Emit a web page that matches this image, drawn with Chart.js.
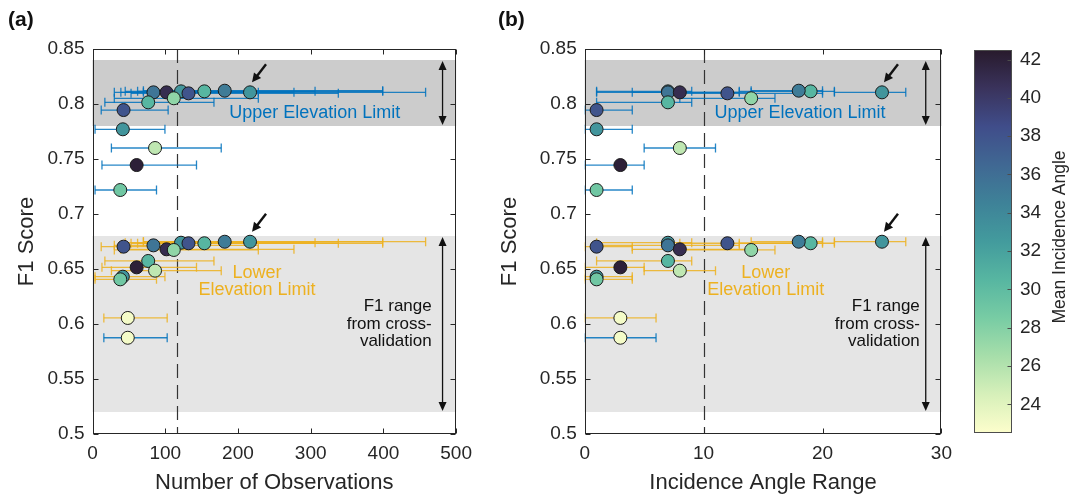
<!DOCTYPE html>
<html>
<head>
<meta charset="utf-8">
<script src="https://cdn.jsdelivr.net/npm/chart.js@4.4.0/dist/chart.umd.min.js"></script>
<style>
  body { margin: 0; background: #fff; width: 1070px; height: 497px; position: relative; overflow: hidden;
         font-family: 'Liberation Sans', Arial, sans-serif; }
  canvas { position: absolute; top: 0; }
  .tag { position: absolute; top: 7px; font-weight: bold; font-size: 21px; color: #111; }
</style>
</head>
<body>
<canvas id="chartA" width="480" height="497" style="left:0"></canvas>
<canvas id="chartB" width="480" height="497" style="left:480px"></canvas>
<canvas id="colorbar" width="110" height="497" style="left:960px"></canvas>
<div class="tag" style="left:8px">(a)</div>
<div class="tag" style="left:498px">(b)</div>
<script>
// Axis ticks
const f1Ticks = [0.5, 0.55, 0.6, 0.65, 0.7, 0.75, 0.8, 0.85];
const obsTicks = [0, 100, 200, 300, 400, 500];
const angleTicks = [0, 10, 20, 30];
const colorTicks = [24, 26, 28, 30, 32, 34, 36, 38, 40, 42];

// One entry per model run (same order in every array)
const meanAngle = [33, 35.5, 41, 38, 30.5, 35, 33, 30.5, 27.5, 38, 33, 25.5, 42, 29, 23];
const f1Upper = [0.8115, 0.8106, 0.8106, 0.8097, 0.8115, 0.8121, 0.8106, 0.8015, 0.8052, 0.7945, 0.777, 0.76, 0.7445, 0.7218, 0.5875];
const f1Lower = [0.6739, 0.6715, 0.6679, 0.6734, 0.6734, 0.6748, 0.6748, 0.6573, 0.6673, 0.6703, 0.643, 0.6485, 0.6515, 0.6406, 0.6055];
const obsMean = [121.7, 83.8, 101.8, 132, 153.8, 181.8, 216.6, 76.6, 111.8, 42.7, 41.7, 86, 60.7, 38.2, 48.5];
const obsMin = [45, 30, 39, 53, 62, 70, 70, 17, 30, 12, 3.5, 26, 13, 3.5, 15.6];
const obsMax = [306, 228, 277, 338, 399, 399, 458, 167, 228, 104, 99.6, 177, 143, 88, 102.7];
const angRange = [7, 7, 8, 12, 19, 18, 25, 7, 14, 1, 1, 8, 3, 1, 3];
const angMin = [1, 1, 4, 8, 13, 14, 21, 1, 8, 0, 0, 5, 0, 0, 0];
const angMax = [9, 13, 14, 20, 21, 20, 27, 9, 16, 4, 4, 11, 5, 4, 6];

// Cross-validation F1 ranges
const upperBand = [0.78, 0.84];
const lowerBand = [0.52, 0.68];
const arrowIdx = 6;   // run marked with the small arrows

const BLUE = 'rgba(0,114,189,0.85)';
const ORANGE = 'rgba(237,177,32,0.85)';
const TXT = '#262626';
const FONT = "'Liberation Sans', Arial, sans-serif";

Chart.defaults.font.family = FONT;
Chart.defaults.color = TXT;

// cmocean "deep"-like colormap
const deepStops = [[253,254,204],[215,240,186],[167,222,170],[120,204,164],[87,182,161],
                   [67,155,157],[62,130,152],[64,104,147],[64,77,138],[58,51,92],[40,26,44]];
const cMin = 22.5, cMax = 42.5;
function angleColor(v) {
    let t = Math.min(1, Math.max(0, (v - cMin) / (cMax - cMin))) * (deepStops.length - 1);
    const i = Math.min(Math.floor(t), deepStops.length - 2);
    const f = t - i;
    const a = deepStops[i], b = deepStops[i + 1];
    const c = a.map((ch, k) => Math.round(ch + (b[k] - ch) * f));
    return 'rgb(' + c.join(',') + ')';
}

function arrowHead(ctx, x1, y1, x2, y2, len, half) {
    const ang = Math.atan2(y2 - y1, x2 - x1);
    const bx = x2 - len * Math.cos(ang), by = y2 - len * Math.sin(ang);
    ctx.beginPath();
    ctx.moveTo(x2, y2);
    ctx.lineTo(bx + half * Math.sin(ang), by - half * Math.cos(ang));
    ctx.lineTo(bx - half * Math.sin(ang), by + half * Math.cos(ang));
    ctx.closePath();
    ctx.fill();
}

// bands, reference line, labels, arrows, box with inward ticks
const panelDecor = {
    id: 'panelDecor',
    beforeDatasetsDraw(chart, args, o) {
        const {ctx, chartArea: ca, scales: {x, y}} = chart;
        ctx.save();
        ctx.fillStyle = '#cccccc';
        ctx.fillRect(ca.left, y.getPixelForValue(upperBand[1]), ca.width,
            y.getPixelForValue(upperBand[0]) - y.getPixelForValue(upperBand[1]));
        ctx.fillStyle = '#e5e5e5';
        ctx.fillRect(ca.left, y.getPixelForValue(lowerBand[1]), ca.width,
            y.getPixelForValue(lowerBand[0]) - y.getPixelForValue(lowerBand[1]));

        const rx = Math.round(x.getPixelForValue(o.refLine)) + 0.5;
        ctx.strokeStyle = '#333';
        ctx.lineWidth = 1.2;
        ctx.setLineDash([14, 7]);
        ctx.beginPath();
        ctx.moveTo(rx, ca.top);
        ctx.lineTo(rx, ca.bottom);
        ctx.stroke();
        ctx.restore();
    },
    afterDatasetsDraw(chart, args, o) {
        const {ctx, scales: {x, y}} = chart;
        ctx.save();
        ctx.textAlign = 'center';
        ctx.textBaseline = 'middle';
        ctx.font = '18px ' + FONT;
        ctx.fillStyle = '#0072BD';
        ctx.fillText('Upper Elevation Limit', x.getPixelForValue(o.upperText[0]), y.getPixelForValue(o.upperText[1]));
        ctx.fillStyle = '#EDB120';
        ctx.fillText('Lower', x.getPixelForValue(o.lowerText[0]), y.getPixelForValue(o.lowerText[1]));
        ctx.fillText('Elevation Limit', x.getPixelForValue(o.lowerText[0]), y.getPixelForValue(o.lowerText[2]));

        ctx.fillStyle = '#111';
        ctx.textAlign = 'right';
        ctx.font = '17px ' + FONT;
        ['F1 range', 'from cross-', 'validation'].forEach((s, k) => {
            ctx.fillText(s, x.getPixelForValue(o.rangeText[0]), y.getPixelForValue(o.rangeText[1 + k]));
        });

        // double-headed arrows for the cross-validation ranges
        ctx.strokeStyle = '#111';
        ctx.lineWidth = 1.3;
        const ax = x.getPixelForValue(o.rangeArrowX);
        [upperBand, lowerBand].forEach(b => {
            const y0 = y.getPixelForValue(b[0]) - 1, y1 = y.getPixelForValue(b[1]) + 1;
            ctx.beginPath();
            ctx.moveTo(ax, y0 - 6);
            ctx.lineTo(ax, y1 + 6);
            ctx.stroke();
            arrowHead(ctx, ax, y0 - 5, ax, y1, 9, 4);
            arrowHead(ctx, ax, y1 + 5, ax, y0, 9, 4);
        });

        // small pointers to the marked run
        ctx.lineWidth = 2.4;
        [f1Upper, f1Lower].forEach(ys => {
            const px = x.getPixelForValue(o.xs[arrowIdx]), py = y.getPixelForValue(ys[arrowIdx]);
            const hx = px + 2, hy = py - 10, tx = px + 16, ty = py - 28;
            ctx.beginPath();
            ctx.moveTo(tx, ty);
            ctx.lineTo(hx + 4, hy - 5);
            ctx.stroke();
            arrowHead(ctx, tx, ty, hx, hy, 9, 4.5);
        });
        ctx.restore();
    },
    afterDraw(chart) {
        const {ctx, chartArea: ca, scales: {x, y}} = chart;
        const L = Math.round(ca.left) + 0.5, R = Math.round(ca.right) - 0.5;
        const T = Math.round(ca.top) + 0.5, B = Math.round(ca.bottom) - 0.5;
        ctx.save();
        ctx.strokeStyle = '#262626';
        ctx.lineWidth = 1;
        ctx.strokeRect(L, T, R - L, B - T);
        ctx.beginPath();
        x.ticks.forEach(t => {
            const px = Math.round(x.getPixelForValue(t.value)) + 0.5;
            ctx.moveTo(px, B); ctx.lineTo(px, B - 5);
            ctx.moveTo(px, T); ctx.lineTo(px, T + 5);
        });
        y.ticks.forEach(t => {
            const py = Math.round(y.getPixelForValue(t.value)) + 0.5;
            ctx.moveTo(L, py); ctx.lineTo(L + 5, py);
            ctx.moveTo(R, py); ctx.lineTo(R - 5, py);
        });
        ctx.stroke();
        ctx.restore();
    }
};

function makePanel(cfg) {
    const datasets = [];
    [[f1Upper, BLUE], [f1Lower, ORANGE]].forEach(([ys, col]) => {
        ys.forEach((yv, i) => {
            datasets.push({
                data: [{x: cfg.lo[i], y: yv}, {x: cfg.hi[i], y: yv}],
                showLine: true,
                borderColor: col,
                borderWidth: 1.3,
                pointStyle: 'line',
                pointRotation: 90,
                pointRadius: 4.5,
                pointHoverRadius: 4.5,
                pointBorderColor: col,
                pointBorderWidth: 1.3,
                order: 2
            });
        });
    });
    [f1Upper, f1Lower].forEach(ys => {
        datasets.push({
            data: cfg.xs.map((xv, i) => ({x: xv, y: ys[i]})),
            pointRadius: 6.5,
            pointHoverRadius: 6.5,
            pointBackgroundColor: meanAngle.map(angleColor),
            pointBorderColor: '#1b1b1b',
            pointBorderWidth: 1,
            order: 1
        });
    });

    return new Chart(document.getElementById(cfg.canvas), {
        type: 'scatter',
        data: { datasets: datasets },
        options: {
            responsive: false,
            animation: false,
            layout: { padding: { top: 49, right: cfg.padRight, left: 0, bottom: 0 } },
            plugins: {
                legend: { display: false },
                tooltip: { enabled: false },
                panelDecor: cfg.decor
            },
            scales: {
                x: {
                    type: 'linear',
                    min: cfg.xTicks[0],
                    max: cfg.xTicks[cfg.xTicks.length - 1],
                    afterBuildTicks: s => { s.ticks = cfg.xTicks.map(v => ({value: v})); },
                    afterFit: s => { s.height = 63; },
                    ticks: { padding: 8, font: { size: 19 }, color: TXT, maxRotation: 0 },
                    grid: { display: false, drawTicks: false },
                    border: { display: false },
                    title: { display: true, text: cfg.xTitle, color: TXT, font: { size: 22 }, padding: { top: 0, bottom: 1 } }
                },
                y: {
                    min: 0.5,
                    max: 0.85,
                    afterBuildTicks: s => { s.ticks = f1Ticks.map(v => ({value: v})); },
                    afterFit: s => { s.width = cfg.yWidth; },
                    ticks: { padding: 8, font: { size: 19 }, color: TXT, callback: v => String(v) },
                    grid: { display: false, drawTicks: false },
                    border: { display: false },
                    title: { display: true, text: 'F1 Score', color: TXT, font: { size: 22 }, padding: { top: cfg.titlePad, bottom: 0 } }
                }
            }
        },
        plugins: [panelDecor]
    });
}

makePanel({
    canvas: 'chartA', xs: obsMean, lo: obsMin, hi: obsMax, xTicks: obsTicks,
    xTitle: 'Number of Observations', yWidth: 92.5, padRight: 18.5, titlePad: 13.3,
    decor: { xs: obsMean, refLine: 116, upperText: [305.6, 0.7915], lowerText: [226.3, 0.6466, 0.631],
             rangeText: [466.4, 0.6157, 0.5997, 0.5845], rangeArrowX: 481.3 }
});

makePanel({
    canvas: 'chartB', xs: angRange, lo: angMin, hi: angMax, xTicks: angleTicks,
    xTitle: 'Incidence Angle Range', yWidth: 104.7, padRight: 12.3, titlePad: 16.8,
    decor: { xs: angRange, refLine: 10, upperText: [18.1, 0.7915], lowerText: [15.23, 0.6466, 0.631],
             rangeText: [28.18, 0.6157, 0.5997, 0.5845], rangeArrowX: 28.68 }
});

// Colour bar
const colorbarDecor = {
    id: 'colorbarDecor',
    beforeDatasetsDraw(chart) {
        const {ctx, chartArea: ca, scales: {y}} = chart;
        ctx.save();
        const g = ctx.createLinearGradient(0, y.getPixelForValue(cMin), 0, y.getPixelForValue(cMax));
        deepStops.forEach((c, i) => g.addColorStop(i / (deepStops.length - 1), 'rgb(' + c.join(',') + ')'));
        ctx.fillStyle = g;
        ctx.fillRect(ca.left, ca.top, ca.width, ca.height);
        const L = Math.round(ca.left) + 0.5, R = Math.round(ca.right) - 0.5;
        const T = Math.round(ca.top) + 0.5, B = Math.round(ca.bottom) - 0.5;
        ctx.strokeStyle = '#4d4d4d';
        ctx.lineWidth = 1;
        ctx.strokeRect(L, T, R - L, B - T);
        ctx.beginPath();
        y.ticks.forEach(t => {
            const py = Math.round(y.getPixelForValue(t.value)) + 0.5;
            ctx.moveTo(R, py); ctx.lineTo(R - 4, py);
        });
        ctx.stroke();
        ctx.translate(100, 237);
        ctx.rotate(-Math.PI / 2);
        ctx.fillStyle = TXT;
        ctx.font = '17.5px ' + FONT;
        ctx.textAlign = 'center';
        ctx.textBaseline = 'middle';
        ctx.fillText('Mean Incidence Angle', 0, 0);
        ctx.restore();
    }
};

new Chart(document.getElementById('colorbar'), {
    type: 'scatter',
    data: { datasets: [{ data: [] }] },
    options: {
        responsive: false,
        animation: false,
        layout: { padding: { left: 14, top: 50, bottom: 64, right: 0 } },
        plugins: { legend: { display: false }, tooltip: { enabled: false } },
        scales: {
            x: { display: false, min: 0, max: 1 },
            y: {
                position: 'right',
                min: cMin,
                max: cMax,
                afterBuildTicks: s => { s.ticks = colorTicks.map(v => ({value: v})); },
                afterFit: s => { s.width = 58; },
                ticks: { padding: 8, font: { size: 19 }, color: TXT },
                grid: { display: false, drawTicks: false },
                border: { display: false }
            }
        }
    },
    plugins: [colorbarDecor]
});
</script>
</body>
</html>
